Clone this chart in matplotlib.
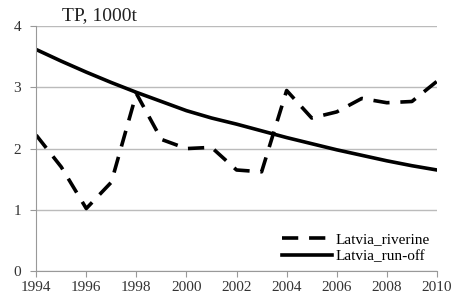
import matplotlib.pyplot as plt

years = list(range(1994, 2011))
riverine = [2.22, 1.7, 1.02, 1.45, 2.9, 2.15, 2.0, 2.02, 1.65, 1.62, 2.95, 2.5, 2.6, 2.82, 2.75, 2.77, 3.1]
runoff = [3.62, 3.43, 3.25, 3.08, 2.92, 2.77, 2.62, 2.5, 2.4, 2.29, 2.18, 2.08, 1.98, 1.89, 1.8, 1.72, 1.65]
xticks = list(range(1994, 2011, 2))
yticks = [0, 1, 2, 3, 4]

plt.rcParams['font.family'] = ['Liberation Serif', 'DejaVu Serif']

fig = plt.figure(figsize=(4.58, 3.02), dpi=100)
ax = fig.add_axes([0.079, 0.103, 0.875, 0.81])

ax.plot(years, riverine, color='black', lw=2.6, dashes=(4.5, 3), label='Latvia_riverine')
ax.plot(years, runoff, color='black', lw=2.6, label='Latvia_run-off')

ax.set_xlim(1994, 2010)
ax.set_ylim(0, 4)
ax.set_xticks(xticks)
ax.set_yticks(yticks)
ax.tick_params(labelsize=11, colors='#333333', length=4, color='#999999')
ax.tick_params(axis='y', length=4, pad=7)
ax.grid(axis='y', color='#bbbbbb', lw=1)
ax.set_axisbelow(True)
for s in ['top', 'right']:
    ax.spines[s].set_visible(False)
for s in ['left', 'bottom']:
    ax.spines[s].set_color('#999999')

fig.text(0.135, 0.935, 'TP, 1000t', fontsize=14, color='#222222')

ax.legend(loc='lower right', frameon=False, fontsize=11, handlelength=3.3,
          borderaxespad=0.1, labelspacing=0.2, handletextpad=0.2)

fig.savefig('out.png', dpi=100)
